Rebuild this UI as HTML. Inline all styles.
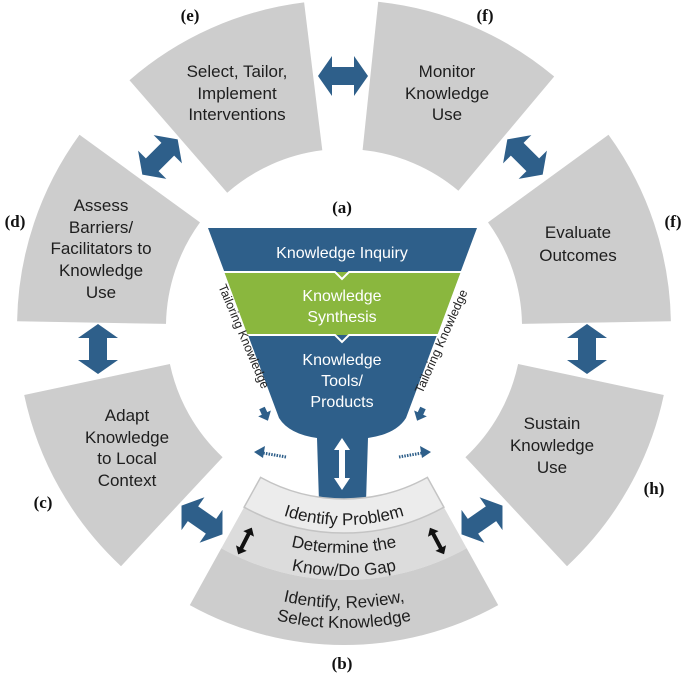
<!DOCTYPE html>
<html><head><meta charset="utf-8"><style>
html,body{margin:0;padding:0;background:#fff}
svg{display:block}
.seg{font-family:"Liberation Sans",sans-serif;font-size:17px;fill:#1e1e1e;text-anchor:middle}
.lab{font-family:"Liberation Serif",serif;font-weight:bold;font-size:17px;fill:#111;text-anchor:middle}
.fn{font-family:"Liberation Sans",sans-serif;font-size:16px;fill:#fff;text-anchor:middle}
.tk{font-family:"Liberation Sans",sans-serif;font-size:12.5px;fill:#222;text-anchor:middle}
.bt{font-family:"Liberation Sans",sans-serif;font-size:17px;fill:#1e1e1e}
</style></head><body>
<svg width="685" height="674" viewBox="0 0 685 674" xmlns="http://www.w3.org/2000/svg">
<defs>
<path id="a1" d="M216.7,478.7 A198,198 0 0 0 471.3,478.7"/>
<path id="a2" d="M198.7,500.1 A226,226 0 0 0 489.3,500.1"/>
<path id="a3" d="M183.9,517.7 A249,249 0 0 0 504.1,517.7"/>
<path id="a4" d="M163.4,542.2 A281,281 0 0 0 524.6,542.2"/>
<path id="a5" d="M150.5,557.6 A301,301 0 0 0 537.5,557.6"/>
<path id="ba" d="M-25,0 L-11,-20 L-11,-9 L11,-9 L11,-20 L25,0 L11,20 L11,9 L-11,9 L-11,20 Z"/>
<path id="ka" d="M-15,0 L-8,-6 L-8,-2 L8,-2 L8,-6 L15,0 L8,6 L8,2 L-8,2 L-8,6 Z"/>
<path id="sa" d="M0,-3 L6,-3 L6,-7 L14,0 L6,7 L6,3 L0,3 Z"/>
</defs>
<g fill="#cdcdcd">
<path d="M129.5,80.2 A327,327 0 0 1 304.1,2.4 L322.3,150.3 A178,178 0 0 0 227.2,192.7 Z"/>
<path d="M378.2,1.8 A327,327 0 0 1 554.2,76.5 L458.4,190.7 A178,178 0 0 0 362.6,150.0 Z"/>
<path d="M608.5,134.8 A327,327 0 0 1 670.9,321.3 L522.0,323.9 A178,178 0 0 0 488.0,222.4 Z"/>
<path d="M663.8,395.0 A327,327 0 0 1 567.0,566.2 L465.4,457.2 A178,178 0 0 0 518.1,364.0 Z"/>
<path d="M121.0,566.2 A327,327 0 0 1 24.2,395.0 L169.9,364.0 A178,178 0 0 0 222.6,457.2 Z"/>
<path d="M17.1,321.3 A327,327 0 0 1 79.5,134.8 L200.0,222.4 A178,178 0 0 0 166.0,323.9 Z"/>
</g>
<!-- funnel -->
<path d="M208,228 L477,228 L406,418 Q396,434 368,438 L366,502 L319,502 L317,438 Q289,434 279,418 Z" fill="#2e5f8a"/>
<path d="M224.3,272 L460.7,272 L437.4,335 L247.6,335 Z" fill="#8ab73e"/>
<polyline points="224,272 335,272 342,279 349,272 461,272" fill="none" stroke="#fff" stroke-width="2"/>
<polyline points="247,335 335,335 342,342 349,335 438,335" fill="none" stroke="#fff" stroke-width="2"/>
<text class="fn" x="342" y="258">Knowledge Inquiry</text>
<text class="fn" x="342" y="301">Knowledge</text>
<text class="fn" x="342" y="322">Synthesis</text>
<text class="fn" x="342" y="365">Knowledge</text>
<text class="fn" x="342" y="386">Tools/</text>
<text class="fn" x="342" y="407">Products</text>
<path d="M342,438 L350,450 L345,450 L345,478 L350,478 L342,490 L334,478 L339,478 L339,450 L334,450 Z" fill="#fff"/>
<!-- b segment -->
<path d="M244.1,507.2 A206,206 0 0 0 443.9,507.2 L466.7,548.3 A253,253 0 0 1 221.3,548.3 Z" fill="#dcdcdc"/>
<path d="M221.3,548.3 A253,253 0 0 0 466.7,548.3 L498.2,605.1 A318,318 0 0 1 189.8,605.1 Z" fill="#cdcdcd"/>
<path d="M260.6,477.4 A172,172 0 0 0 427.4,477.4 L443.9,507.2 A206,206 0 0 1 244.1,507.2 Z" fill="#ececec" stroke="#c4c4c4" stroke-width="1.5"/>
<text class="bt"><textPath href="#a1" startOffset="50%" text-anchor="middle">Identify Problem</textPath></text>
<text class="bt"><textPath href="#a2" startOffset="50%" text-anchor="middle">Determine the</textPath></text>
<text class="bt"><textPath href="#a3" startOffset="50%" text-anchor="middle">Know/Do Gap</textPath></text>
<text class="bt"><textPath href="#a4" startOffset="50%" text-anchor="middle">Identify, Review,</textPath></text>
<text class="bt"><textPath href="#a5" startOffset="50%" text-anchor="middle">Select Knowledge</textPath></text>
<use href="#ka" transform="translate(245,541) rotate(-63)" fill="#111"/>
<use href="#ka" transform="translate(437,541) rotate(62)" fill="#111"/>
<!-- tailoring -->
<text class="tk" transform="translate(240,338) rotate(67)">Tailoring Knowledge</text>
<text class="tk" transform="translate(445,343) rotate(-66)">Tailoring Knowledge</text>
<use href="#sa" transform="translate(262,408) rotate(65)" fill="#2e5f8a"/>
<use href="#sa" transform="translate(423,408) rotate(115)" fill="#2e5f8a"/>
<line x1="286" y1="457" x2="263" y2="453" stroke="#2e5f8a" stroke-width="3" stroke-dasharray="1.5,1.2"/>
<polygon points="254,452 265,446 263,458" fill="#2e5f8a"/>
<line x1="399" y1="457" x2="422" y2="453" stroke="#2e5f8a" stroke-width="3" stroke-dasharray="1.5,1.2"/>
<polygon points="431,452 420,446 422,458" fill="#2e5f8a"/>
<!-- blue arrows -->
<g fill="#2e5f8a">
<use href="#ba" transform="translate(343,76)"/>
<use href="#ba" transform="translate(160,157) rotate(-45)"/>
<use href="#ba" transform="translate(525,157) rotate(45)"/>
<use href="#ba" transform="translate(98,349) rotate(90)"/>
<use href="#ba" transform="translate(587,349) rotate(90)"/>
<use href="#ba" transform="translate(202,520) rotate(35)"/>
<use href="#ba" transform="translate(482,520) rotate(-35)"/>
</g>
<!-- segment text -->
<text class="seg" x="237" y="77">Select, Tailor,</text>
<text class="seg" x="237" y="99">Implement</text>
<text class="seg" x="237" y="120">Interventions</text>
<text class="seg" x="447" y="77">Monitor</text>
<text class="seg" x="447" y="99">Knowledge</text>
<text class="seg" x="447" y="120">Use</text>
<text class="seg" x="101" y="211">Assess</text>
<text class="seg" x="101" y="233">Barriers/</text>
<text class="seg" x="101" y="254">Facilitators to</text>
<text class="seg" x="101" y="276">Knowledge</text>
<text class="seg" x="101" y="298">Use</text>
<text class="seg" x="578" y="238">Evaluate</text>
<text class="seg" x="578" y="261">Outcomes</text>
<text class="seg" x="127" y="421">Adapt</text>
<text class="seg" x="127" y="443">Knowledge</text>
<text class="seg" x="127" y="464">to Local</text>
<text class="seg" x="127" y="486">Context</text>
<text class="seg" x="552" y="429">Sustain</text>
<text class="seg" x="552" y="451">Knowledge</text>
<text class="seg" x="552" y="473">Use</text>
<!-- labels -->
<text class="lab" x="190" y="21">(e)</text>
<text class="lab" x="485" y="21">(f)</text>
<text class="lab" x="342" y="213">(a)</text>
<text class="lab" x="15" y="227">(d)</text>
<text class="lab" x="673" y="227">(f)</text>
<text class="lab" x="43" y="508">(c)</text>
<text class="lab" x="654" y="494">(h)</text>
<text class="lab" x="342" y="669">(b)</text>
</svg>
</body></html>
